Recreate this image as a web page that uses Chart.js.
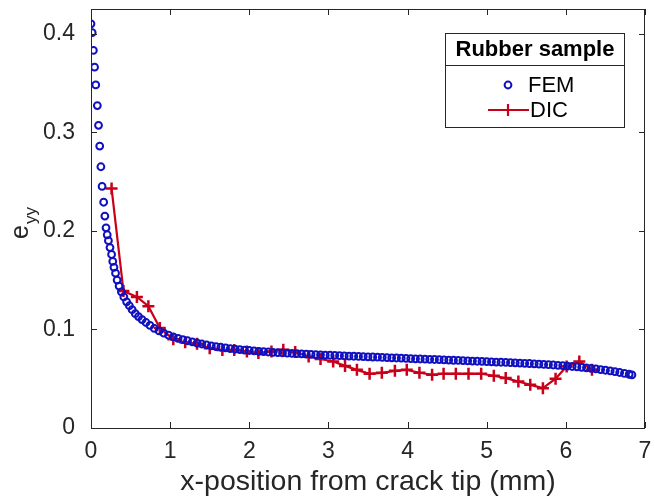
<!DOCTYPE html>
<html>
<head>
<meta charset="utf-8">
<script src="https://cdn.jsdelivr.net/npm/chart.js@4"></script>
<style>
  html, body { margin: 0; padding: 0; background: #fff; }
  #wrap { width: 655px; height: 499px; }
</style>
</head>
<body>
<div id="wrap"><canvas id="strainChart" width="655" height="499"></canvas></div>
<script>
// FEM results (x in mm, e_yy)
const femX = [0.00, 0.015, 0.03, 0.045, 0.06, 0.08, 0.095, 0.11, 0.125, 0.14, 0.16, 0.175, 0.19, 0.205, 0.22, 0.24, 0.26, 0.275, 0.29, 0.31,
  0.33, 0.355, 0.385, 0.415, 0.45, 0.485, 0.52, 0.56, 0.60, 0.645, 0.695, 0.745, 0.80, 0.86, 0.92, 0.98, 1.04, 1.10, 1.16, 1.22,
  1.28, 1.34, 1.40, 1.46, 1.52, 1.58, 1.64, 1.70, 1.76, 1.82, 1.88, 1.94, 2.00, 2.06, 2.12, 2.18, 2.24, 2.30, 2.36, 2.42,
  2.48, 2.54, 2.60, 2.66, 2.72, 2.78, 2.84, 2.90, 2.96, 3.02, 3.08, 3.14, 3.20, 3.26, 3.32, 3.38, 3.44, 3.50, 3.56, 3.62,
  3.68, 3.74, 3.80, 3.86, 3.92, 3.98, 4.04, 4.10, 4.16, 4.22, 4.28, 4.34, 4.40, 4.46, 4.52, 4.58, 4.64, 4.70, 4.76, 4.82,
  4.88, 4.94, 5.00, 5.06, 5.12, 5.18, 5.24, 5.30, 5.36, 5.42, 5.48, 5.54, 5.60, 5.66, 5.72, 5.78, 5.84, 5.90, 5.96, 6.02,
  6.08, 6.14, 6.20, 6.26, 6.32, 6.38, 6.44, 6.50, 6.56, 6.62, 6.68, 6.74, 6.80, 6.835];
const femY = [0.410, 0.401, 0.383, 0.366, 0.348, 0.327, 0.307, 0.286, 0.265, 0.245, 0.229, 0.215, 0.203, 0.196, 0.190, 0.183, 0.176, 0.169, 0.163, 0.157,
  0.150, 0.144, 0.138, 0.133, 0.128, 0.124, 0.120, 0.116, 0.113, 0.110, 0.107, 0.104, 0.101, 0.0985, 0.0962, 0.0942, 0.0925, 0.0910, 0.0897, 0.0885,
  0.0873, 0.0862, 0.0852, 0.0843, 0.0834, 0.0826, 0.0819, 0.0812, 0.0806, 0.0800, 0.0795, 0.0790, 0.0786, 0.0782, 0.0778, 0.0774, 0.0771, 0.0768, 0.0765, 0.0762,
  0.0759, 0.0756, 0.0754, 0.0751, 0.0749, 0.0746, 0.0744, 0.0742, 0.0740, 0.0738, 0.0736, 0.0734, 0.0732, 0.0730, 0.0728, 0.0726, 0.0724, 0.0722, 0.0720, 0.0718,
  0.0716, 0.0714, 0.0712, 0.0710, 0.0708, 0.0706, 0.0704, 0.0702, 0.0700, 0.0698, 0.0697, 0.0695, 0.0693, 0.0691, 0.0689, 0.0687, 0.0685, 0.0683, 0.0681, 0.0679,
  0.0677, 0.0675, 0.0673, 0.0671, 0.0669, 0.0667, 0.0665, 0.0663, 0.0661, 0.0659, 0.0656, 0.0654, 0.0651, 0.0648, 0.0645, 0.0642, 0.0639, 0.0636, 0.0632, 0.0628,
  0.0624, 0.0620, 0.0615, 0.0610, 0.0605, 0.0599, 0.0593, 0.0586, 0.0579, 0.0571, 0.0563, 0.0554, 0.0545, 0.0539];

// DIC measurements
const dicX = [0.26, 0.41, 0.58, 0.725, 0.87, 1.04, 1.19, 1.34, 1.50, 1.66, 1.81, 1.97, 2.115, 2.28, 2.43, 2.58, 2.75, 2.90, 3.06, 3.21,
  3.36, 3.52, 3.675, 3.84, 3.99, 4.15, 4.31, 4.455, 4.61, 4.77, 4.93, 5.09, 5.24, 5.40, 5.55, 5.71, 5.87, 6.01, 6.17, 6.33];
const dicY = [0.243, 0.139, 0.133, 0.1235, 0.1015, 0.0900, 0.0870, 0.0855, 0.0810, 0.0790, 0.0790, 0.0777, 0.0760, 0.0777, 0.0794, 0.0770, 0.0726, 0.0700, 0.0675, 0.0630,
  0.0590, 0.0550, 0.0560, 0.0580, 0.0590, 0.0560, 0.0540, 0.0550, 0.0550, 0.0550, 0.0550, 0.0530, 0.0506, 0.0472, 0.0438, 0.0404, 0.0500, 0.0624, 0.0675, 0.0590];

const xTicks = [0, 1, 2, 3, 4, 5, 6, 7];
const yTicks = [0, 0.1, 0.2, 0.3, 0.4];

const axisColor = "#262626";
const femColor = "#1010c0";
const dicColor = "#c8001a";
const fontFamily = "'Liberation Sans', Arial, Helvetica, sans-serif";

const ctx = document.getElementById("strainChart").getContext("2d");

// inward ticks + full box, like the original plot
const boxPlugin = {
    id: "boxPlugin",
    afterDraw: (chart) => {
        const { ctx, chartArea: a, scales } = chart;
        ctx.save();
        ctx.strokeStyle = axisColor;
        ctx.lineWidth = 1;
        ctx.strokeRect(a.left + 0.5, a.top + 0.5, a.right - a.left - 1, a.bottom - a.top);
        ctx.beginPath();
        xTicks.forEach((t) => {
            const px = Math.round(scales.x.getPixelForValue(t)) + 0.5;
            ctx.moveTo(px, a.bottom); ctx.lineTo(px, a.bottom - 6);
            ctx.moveTo(px, a.top); ctx.lineTo(px, a.top + 6);
        });
        yTicks.forEach((t) => {
            const py = Math.round(scales.y.getPixelForValue(t)) + 0.5;
            ctx.moveTo(a.left, py); ctx.lineTo(a.left + 6, py);
            ctx.moveTo(a.right, py); ctx.lineTo(a.right - 6, py);
        });
        ctx.stroke();

        // y axis title: e with subscript yy
        ctx.fillStyle = axisColor;
        ctx.translate(28, 239);
        ctx.rotate(-Math.PI / 2);
        ctx.textBaseline = "alphabetic";
        ctx.font = "25px " + fontFamily;
        ctx.fillText("e", 0, 0);
        const w = ctx.measureText("e").width;
        ctx.font = "17px " + fontFamily;
        ctx.fillText("yy", w + 1, 8);
        ctx.restore();

        // legend with title
        ctx.save();
        ctx.fillStyle = "#fff";
        ctx.fillRect(445, 33, 179, 94);
        ctx.strokeStyle = axisColor;
        ctx.lineWidth = 1;
        ctx.strokeRect(445.5, 33.5, 179, 94);
        ctx.beginPath();
        ctx.moveTo(445, 65.5); ctx.lineTo(624, 65.5);
        ctx.stroke();
        ctx.fillStyle = "#000";
        ctx.textBaseline = "middle";
        ctx.textAlign = "center";
        ctx.font = "bold 22px " + fontFamily;
        ctx.fillText("Rubber sample", 535, 50);
        ctx.textAlign = "left";
        ctx.font = "22px " + fontFamily;
        ctx.fillText("FEM", 528, 86);
        ctx.fillText("DIC", 530, 111);
        ctx.strokeStyle = femColor;
        ctx.lineWidth = 2;
        ctx.beginPath();
        ctx.arc(508, 85, 3.4, 0, Math.PI * 2);
        ctx.stroke();
        ctx.strokeStyle = dicColor;
        ctx.lineWidth = 2.2;
        ctx.beginPath();
        ctx.moveTo(488, 110); ctx.lineTo(529, 110);
        ctx.moveTo(508, 104); ctx.lineTo(508, 116);
        ctx.stroke();
        ctx.restore();
    },
};

new Chart(ctx, {
    type: "scatter",
    data: {
        datasets: [
            {
                label: "FEM",
                data: femX.map((x, i) => ({ x: x, y: femY[i] })),
                showLine: false,
                pointStyle: "circle",
                pointRadius: 3.4,
                pointBorderWidth: 2,
                borderColor: femColor,
                backgroundColor: "rgba(0,0,0,0)",
            },
            {
                label: "DIC",
                data: dicX.map((x, i) => ({ x: x, y: dicY[i] })),
                showLine: true,
                borderColor: dicColor,
                backgroundColor: dicColor,
                borderWidth: 2.2,
                pointStyle: "cross",
                pointRadius: 6,
                pointBorderWidth: 2.5,
            },
        ],
    },
    options: {
        responsive: false,
        animation: false,
        layout: { padding: { top: 9, right: 10, left: 0, bottom: 0 } },
        plugins: {
            legend: { display: false },
            tooltip: { enabled: false },
        },
        scales: {
            x: {
                type: "linear",
                min: 0,
                max: 7,
                afterBuildTicks: (s) => { s.ticks = xTicks.map((v) => ({ value: v })); },
                afterFit: (s) => { s.height = 71; s.paddingLeft = 0; s.paddingRight = 0; },
                grid: { display: false },
                border: { display: false },
                ticks: { color: axisColor, padding: 2, font: { family: fontFamily, size: 23 } },
                title: { display: true, text: "x-position from crack tip (mm)", color: axisColor, padding: { top: 0, bottom: 0 }, font: { family: fontFamily, size: 28.5 } },
            },
            y: {
                type: "linear",
                min: 0,
                max: 0.425,
                afterBuildTicks: (s) => { s.ticks = yTicks.map((v) => ({ value: v })); },
                afterFit: (s) => { s.width = 91; s.paddingTop = 0; s.paddingBottom = 0; },
                grid: { display: false },
                border: { display: false },
                ticks: { color: axisColor, padding: 8, font: { family: fontFamily, size: 23 }, callback: (v) => String(Math.round(v * 10) / 10) },
            },
        },
    },
    plugins: [boxPlugin],
});
</script>
</body>
</html>
